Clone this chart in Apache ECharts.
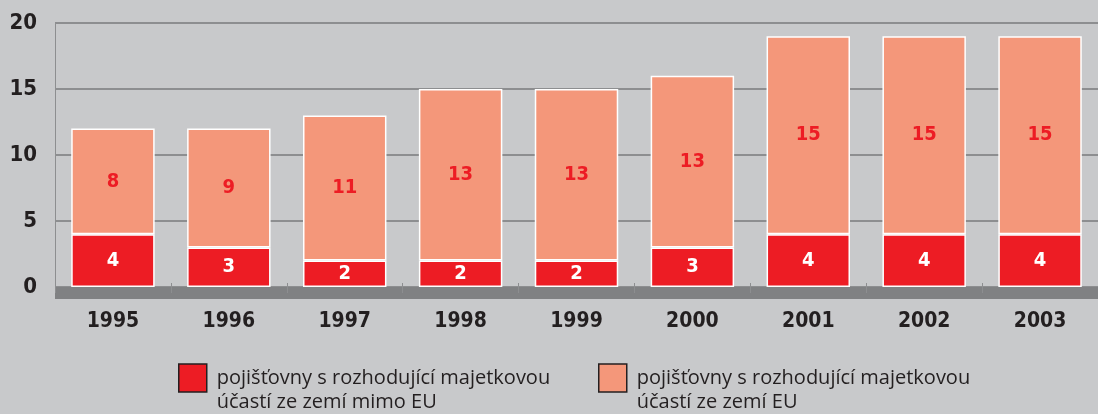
<!DOCTYPE html>
<html>
<head>
<meta charset="utf-8">
<script src="https://cdn.jsdelivr.net/npm/echarts@6/dist/echarts.min.js"></script>
<style>
  html, body { margin: 0; padding: 0; background: #c8c9cb; }
  #main { width: 1098px; height: 414px; }
</style>
</head>
<body>
<div id="main"></div>
<script>
// roky a počty pojišťoven
const years = ['1995', '1996', '1997', '1998', '1999', '2000', '2001', '2002', '2003'];
const mimoEU = [4, 3, 2, 2, 2, 3, 4, 4, 4];
const zEU = [8, 9, 11, 13, 13, 13, 15, 15, 15];
const yTicks = [0, 5, 10, 15, 20];

const nameMimo = 'pojišťovny s rozhodující majetkovou\núčastí ze zemí mimo EU';
const nameEU = 'pojišťovny s rozhodující majetkovou\núčastí ze zemí EU';

const chart = echarts.init(document.getElementById('main'));

// prázdný první řádek posune text legendy pod střed čtverečku
const legendBase = {
  top: 342,
  padding: 0,
  icon: 'rect',
  itemWidth: 28,
  itemHeight: 28,
  itemGap: 0,
  itemStyle: { borderColor: '#231f20', borderWidth: 1.5 },
  formatter: name => '{e|}\n' + name,
  textStyle: {
    fontFamily: 'Open Sans',
    fontSize: 20,
    color: '#231f20',
    lineHeight: 24,
    padding: [0, 0, 0, 5],
    rich: { e: { height: 24, lineHeight: 24, fontSize: 10 } }
  },
  selectedMode: false
};

const numFont = {
  fontFamily: 'DejaVu Sans Condensed',
  fontWeight: 'bold'
};

chart.setOption({
  backgroundColor: '#c8c9cb',
  animation: false,
  grid: { left: 55, right: 0, top: 23, bottom: 127 },
  legend: [
    Object.assign({}, legendBase, { left: 178, data: [nameMimo] }),
    Object.assign({}, legendBase, { left: 598, data: [nameEU] })
  ],
  xAxis: {
    type: 'category',
    data: years,
    offset: 6,
    axisLine: { show: true, onZero: false, lineStyle: { color: '#808183', width: 12, cap: 'butt' } },
    axisTick: { show: true, inside: true, length: 10, lineStyle: { color: '#8d8e90', width: 1 } },
    axisLabel: Object.assign({ margin: 18, fontSize: 21, color: '#231f20' }, numFont)
  },
  yAxis: {
    type: 'value',
    min: yTicks[0],
    max: yTicks[yTicks.length - 1],
    interval: 5,
    axisLine: { show: true, lineStyle: { color: '#8d8e90', width: 1 } },
    axisTick: { show: false },
    splitLine: { show: true, lineStyle: { color: '#8d8e90', width: 2 } },
    axisLabel: Object.assign({ margin: 18, fontSize: 22, color: '#231f20' }, numFont)
  },
  series: [
    {
      name: nameMimo,
      type: 'bar',
      stack: 'total',
      barWidth: '72%',
      data: mimoEU,
      itemStyle: { color: '#ed1c24', borderColor: '#ffffff', borderWidth: 1.5 },
      label: Object.assign({ show: true, position: 'inside', color: '#ffffff', fontSize: 20 }, numFont)
    },
    {
      name: nameEU,
      type: 'bar',
      stack: 'total',
      barWidth: '72%',
      data: zEU,
      itemStyle: { color: '#f4977a', borderColor: '#ffffff', borderWidth: 1.5 },
      label: Object.assign({ show: true, position: 'inside', color: '#ed1c24', fontSize: 20 }, numFont)
    }
  ]
});
</script>
</body>
</html>
